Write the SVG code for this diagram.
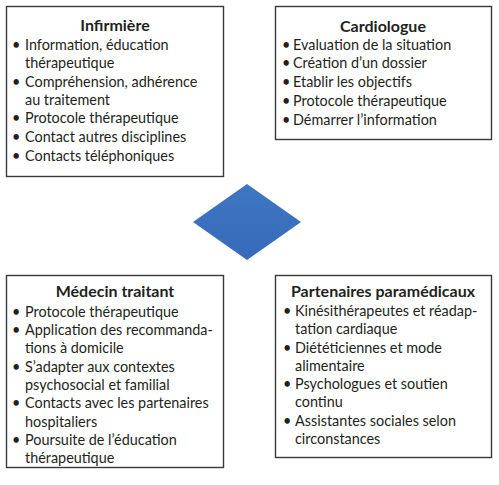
<svg xmlns="http://www.w3.org/2000/svg" width="499" height="485" viewBox="0 0 499 485">
<defs>
<style>
.box{fill:#fff;stroke:#3a3a3a;stroke-width:1.4}
.t{font-family:Lato,"Liberation Sans",sans-serif;font-size:14.4px;fill:#231f20}
.h{font-family:Lato,"Liberation Sans",sans-serif;font-size:16px;font-weight:bold;fill:#231f20;text-anchor:middle}
</style>
<linearGradient id="g" x1="0" y1="0" x2="0" y2="1">
<stop offset="0" stop-color="#3f76c4"/>
<stop offset="1" stop-color="#356bb8"/>
</linearGradient>
</defs>
<rect width="499" height="485" fill="#fff"/>
<g id="infirmiere">
<rect class="box" x="6.5" y="6.5" width="217" height="170"/>
<text class="h" x="115" y="31">Infirmière</text>
<g class="t">
<text x="12" y="50">•</text><text x="25" y="50">Information, éducation</text>
<text x="25" y="68">thérapeutique</text>
<text x="12" y="87">•</text><text x="25" y="87">Compréhension, adhérence</text>
<text x="25" y="105">au traitement</text>
<text x="12" y="123">•</text><text x="25" y="123">Protocole thérapeutique</text>
<text x="12" y="142">•</text><text x="25" y="142">Contact autres disciplines</text>
<text x="12" y="161">•</text><text x="25" y="161">Contacts téléphoniques</text>
</g>
</g>
<g id="cardiologue">
<rect class="box" x="275.5" y="6.5" width="216" height="133"/>
<text class="h" x="383" y="32">Cardiologue</text>
<g class="t">
<text x="282" y="50">•</text><text x="293" y="50">Evaluation de la situation</text>
<text x="282" y="68">•</text><text x="293" y="68">Création d’un dossier</text>
<text x="282" y="87">•</text><text x="293" y="87">Etablir les objectifs</text>
<text x="282" y="106">•</text><text x="293" y="106">Protocole thérapeutique</text>
<text x="282" y="125">•</text><text x="293" y="125">Démarrer l’information</text>
</g>
</g>
<g id="centre">
<polygon points="247,184 301,222 247,260 193,222" fill="url(#g)"/>
</g>
<g id="medecin">
<rect class="box" x="6.5" y="275.5" width="217" height="192"/>
<text class="h" x="115" y="297">Médecin traitant</text>
<g class="t">
<text x="12" y="317">•</text><text x="25" y="317">Protocole thérapeutique</text>
<text x="12" y="335">•</text><text x="25" y="335">Application des recommanda-</text>
<text x="25" y="353">tions à domicile</text>
<text x="12" y="372">•</text><text x="25" y="372">S’adapter aux contextes</text>
<text x="25" y="390">psychosocial et familial</text>
<text x="12" y="408">•</text><text x="25" y="408">Contacts avec les partenaires</text>
<text x="25" y="427">hospitaliers</text>
<text x="12" y="445">•</text><text x="25" y="445">Poursuite de l’éducation</text>
<text x="25" y="463">thérapeutique</text>
</g>
</g>
<g id="partenaires">
<rect class="box" x="275.5" y="275.5" width="216" height="182"/>
<text class="h" x="383" y="297">Partenaires paramédicaux</text>
<g class="t">
<text x="283" y="316">•</text><text x="295" y="316">Kinésithérapeutes et réadap-</text>
<text x="295" y="334">tation cardiaque</text>
<text x="283" y="353">•</text><text x="295" y="353">Diététiciennes et mode</text>
<text x="295" y="371">alimentaire</text>
<text x="283" y="389">•</text><text x="295" y="389">Psychologues et soutien</text>
<text x="295" y="407">continu</text>
<text x="283" y="426">•</text><text x="295" y="426">Assistantes sociales selon</text>
<text x="295" y="444">circonstances</text>
</g>
</g>
<g id="connectors"/>
</svg>
